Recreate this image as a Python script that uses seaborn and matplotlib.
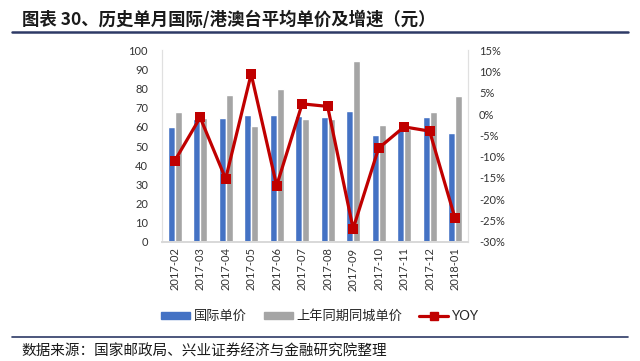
import numpy as np
import pandas as pd
import matplotlib
matplotlib.use("Agg")
import matplotlib.pyplot as plt
import seaborn as sns
from matplotlib.lines import Line2D

sns.set_theme(style="white")
plt.rcParams['font.family'] = ['Lato', 'Noto Sans CJK SC', 'DejaVu Sans']

months = ["2017-02", "2017-03", "2017-04", "2017-05", "2017-06", "2017-07",
          "2017-08", "2017-09", "2017-10", "2017-11", "2017-12", "2018-01"]
intl_price = [60.0, 64.0, 64.7, 66.0, 66.0, 65.5, 65.4, 68.5, 55.8, 58.5, 65.2, 57.0]
prev_price = [67.8, 64.5, 76.5, 60.4, 79.7, 64.2, 64.2, 94.2, 60.8, 59.0, 67.8, 76.0]
yoy = [-11.0, -0.8, -15.2, 9.4, -16.8, 2.4, 1.8, -26.9, -8.0, -3.0, -4.0, -24.5]

s_intl = "国际单价"
s_prev = "上年同期同城单价"
s_yoy = "YOY"

blue = "#4472C4"
gray = "#A5A5A5"
red = "#C00000"

df = pd.DataFrame({
    "month": months * 2,
    "value": intl_price + prev_price,
    "series": [s_intl] * len(months) + [s_prev] * len(months),
})

fig = plt.figure(figsize=(6.4, 3.61), dpi=100)
ax = fig.add_axes([0.253, 0.330, 0.478, 0.531])

sns.barplot(data=df, x="month", y="value", hue="series", palette=[blue, gray],
            width=0.55, ax=ax, legend=False, saturation=1)
ax.set_ylim(0, 100)
ax.set_yticks(np.arange(0, 101, 10))
ax.set_xlim(-0.5, len(months) - 0.5)
ax.set_xlabel("")
ax.set_ylabel("")
ax.tick_params(axis="x", rotation=90, labelsize=8, length=0, pad=4, colors="#333333")
ax.tick_params(axis="y", labelsize=8, length=0, pad=10, colors="#333333")

ax2 = ax.twinx()
sns.lineplot(x=np.arange(len(months)), y=yoy, ax=ax2, color=red, linewidth=2.3,
             marker="s", markersize=7, markeredgewidth=0, legend=False)
ax2.set_ylim(-30, 15)
ax2.set_yticks(np.arange(-30, 16, 5))
ax2.set_yticklabels([f"{v}%" for v in range(-30, 16, 5)])
ax2.tick_params(axis="y", labelsize=8, length=0, pad=8, colors="#333333")
ax2.set_xlim(-0.5, len(months) - 0.5)

for a in (ax, ax2):
    a.spines["top"].set_visible(False)
    a.spines["left"].set_color("#E0E0E0")
    a.spines["right"].set_color("#E0E0E0")
    a.spines["bottom"].set_color("#D9D9D9")
    a.spines["left"].set_linewidth(0.8)
    a.spines["right"].set_linewidth(0.8)

handles = [
    plt.Rectangle((0, 0), 1, 1, color=blue),
    plt.Rectangle((0, 0), 1, 1, color=gray),
    Line2D([0], [0], color=red, linewidth=2.3, marker="s", markersize=6),
]
fig.legend(handles, [s_intl, s_prev, s_yoy], loc="center", bbox_to_anchor=(0.5, 0.125),
           ncol=3, frameon=False, fontsize=9.5, handlelength=2.2, handleheight=0.5,
           columnspacing=1.3, handletextpad=0.25)

fig.text(0.035, 0.945, "图表 30、历史单月国际/港澳台平均单价及增速（元）",
         fontsize=12.5, fontweight="bold", color="#1a1a1a", va="center", ha="left",
         family=['Noto Sans CJK SC', 'DejaVu Sans'])
fig.add_artist(Line2D([0.019, 0.981], [0.911, 0.911], color="#2E3A66", linewidth=1.8,
                      transform=fig.transFigure))
fig.add_artist(Line2D([0.019, 0.981], [0.066, 0.066], color="#2E3A66", linewidth=1.2,
                      transform=fig.transFigure))
fig.text(0.034, 0.025, "数据来源：国家邮政局、兴业证券经济与金融研究院整理",
         fontsize=10.5, color="#1a1a1a", va="center", ha="left",
         family=['Noto Sans CJK SC', 'DejaVu Sans'])

fig.savefig("out.png", dpi=100)
